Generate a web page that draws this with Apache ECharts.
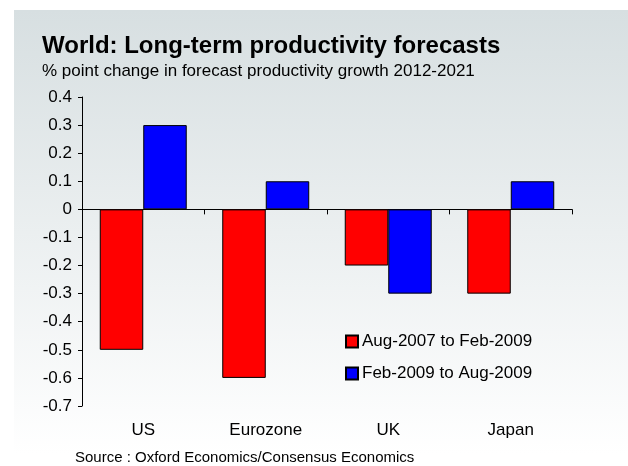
<!DOCTYPE html>
<html><head><meta charset="utf-8">
<script src="https://cdn.jsdelivr.net/npm/echarts@6/dist/echarts.min.js"></script>
<style>html,body{margin:0;padding:0;background:#fff}#c{width:628px;height:466px}</style>
</head><body><div id="c"></div>
<script>
const categories = ['US', 'Eurozone', 'UK', 'Japan'];
const series1Name = 'Aug-2007 to Feb-2009';
const series1 = [-0.5, -0.6, -0.2, -0.3];
const series2Name = 'Feb-2009 to Aug-2009';
const series2 = [0.3, 0.1, -0.3, 0.1];
const yTicks = [0.4, 0.3, 0.2, 0.1, 0, -0.1, -0.2, -0.3, -0.4, -0.5, -0.6, -0.7];

const chart = echarts.init(document.getElementById('c'), null, {renderer: 'canvas'});
const F = 'Liberation Sans, Arial, sans-serif';
chart.setOption({
  animation: false,
  backgroundColor: '#ffffff',
  graphic: [{
    type: 'rect', z: -10, silent: true,
    shape: {x: 14, y: 10, width: 614, height: 445},
    style: {fill: new echarts.graphic.LinearGradient(0, 0, 0, 1, [
      {offset: 0, color: '#d7dfe1'},
      {offset: 1, color: '#ffffff'}
    ])}
  }, {
    type: 'text', left: 42, top: 34,
    style: {text: 'World: Long-term productivity forecasts', font: 'bold 24px ' + F, fill: '#000'}
  }, {
    type: 'text', left: 42, top: 63,
    style: {text: '% point change in forecast productivity growth 2012-2021', font: '17px ' + F, fill: '#000'}
  }, {
    type: 'text', left: 75, top: 450,
    style: {text: 'Source : Oxford Economics/Consensus Economics', font: '15px ' + F, fill: '#000'}
  }],
  legend: {
    orient: 'vertical', left: 340, top: 328, itemGap: 15,
    itemWidth: 12, itemHeight: 12, icon: 'rect',
    textStyle: {fontFamily: F, fontSize: 17, color: '#000', padding: [0, 0, 0, -1]},
    data: [series1Name, series2Name]
  },
  grid: {left: 82, right: 56, top: 97, bottom: 60, containLabel: false},
  xAxis: [{
    type: 'category', data: categories,
    axisLine: {onZero: true, lineStyle: {color: '#000', width: 1}},
    axisTick: {show: true, inside: false, length: 5, lineStyle: {color: '#000'}},
    axisLabel: {show: false}
  }, {
    type: 'category', data: categories, position: 'bottom',
    axisLine: {show: false, onZero: false}, axisTick: {show: false},
    axisLabel: {show: true, fontFamily: F, fontSize: 17, color: '#000', margin: 16}
  }],
  yAxis: {
    type: 'value', min: -0.7, max: 0.4, interval: 0.1,
    axisLine: {show: true, lineStyle: {color: '#000'}},
    axisTick: {show: true, length: 4, lineStyle: {color: '#000'}},
    splitLine: {show: false},
    axisLabel: {fontFamily: F, fontSize: 17, color: '#000', margin: 10,
      formatter: v => { const r = Math.round(v * 10) / 10; return yTicks.includes(r) ? String(r) : ''; }}
  },
  series: [{
    name: series1Name, type: 'bar', data: series1, barGap: '0%', barCategoryGap: '29%',
    itemStyle: {color: '#ff0000', borderColor: '#000', borderWidth: 1}
  }, {
    name: series2Name, type: 'bar', data: series2, barGap: '0%', barCategoryGap: '29%',
    itemStyle: {color: '#0000ff', borderColor: '#000', borderWidth: 1}
  }]
});
</script></body></html>
